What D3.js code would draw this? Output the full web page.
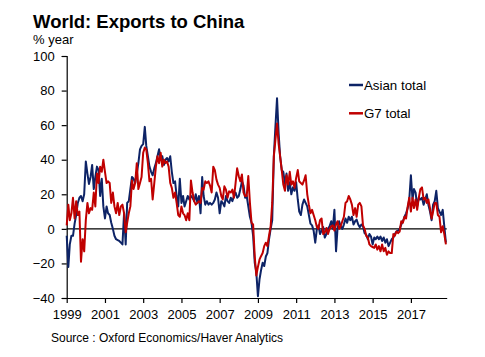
<!DOCTYPE html>
<html>
<head>
<meta charset="utf-8">
<script src="https://cdn.jsdelivr.net/npm/d3@7"></script>
<style>
  html, body { margin: 0; padding: 0; background: #fff; }
  svg { display: block; font-family: "Liberation Sans", Arial, sans-serif; }
</style>
</head>
<body>
<svg id="chart" width="485" height="357"></svg>
<script>
// ---- Data (monthly, % year), Jan 1999 .. Nov 2018 ----
const startYear = 1999;
const asianTotal = [
  -4, -22, -9, -4, -4, 3, 8, 15, 18, 19, 16, 20,          // 1999
  39, 32, 26, 30, 37, 23, 30, 36, 34, 19, 29, 13,          // 2000
  6, 13, 9, 8, 3.5, 0, -4, -6, -6.5, -7, -8, -9,           // 2001
  9, -9, 15, 16, 23, 30, 29, 26.5, 32, 38, 46, 48,         // 2002
  49, 59, 48, 42, 36, 33, 31, 35, 38, 42, 46, 40,          // 2003
  42, 37, 40, 41, 39, 42, 33, 26.5, 27.5, 19, 13, 29,      // 2004
  15, 19, 13, 16, 19, 17, 19, 18, 16, 20, 15, 19,          // 2005
  9, 30, 19, 14, 16, 14, 15, 14, 15, 17, 21, 18,           // 2006
  9, 16, 15, 13, 19, 16, 15, 18, 16, 19, 21, 18,           // 2007
  19, 23, 27.5, 25, 18, 19, 13, 7, 3.5, -4, -19.6, -25,    // 2008
  -39, -29, -24, -19.6, -21.5, -16, -14, -6, 0, 5, 42, 59, // 2009
  75.6, 55, 42, 34, 33, 26, 32, 22, 27, 20, 24, 22,        // 2010
  27, 17, 10, 8, 14, 17, 15, 13, 8, 3, 2, -1,              // 2011
  -8, 0, 2, -3, -1, 1, -5, -3, 0, 1.5, 4.4, 0,             // 2012
  11, -13, 0, 4.4, 1.5, 0, 2.5, 6, 3.5, 7, 5, 7,           // 2013
  2.5, 4.4, 5.4, 2.5, 1, 2.5, 1.5, -2.5, -3.5, -6, -3, -4.4, // 2014
  -9, -5, -6, -4.5, -6, -4.5, -7, -5, -8, -6, -10, -8,     // 2015
  -6, -5, -3, -1.5, -1, 0, 2.5, 4.4, 7, 9, 12, 17,         // 2016
  31, 17, 23, 21, 13, 18, 17, 18, 14, 17, 20, 14,          // 2017
  10, 5, 14, 16, 22, 12, 10, 8, 11, 1.5, -8                // 2018
];
const g7Total = [
  2, 14, 5, 9, 18, 6, 16, 8, 10, -19, -6, -13,             // 1999
  5, 15, 9, 12, 11, 21, 13, 32, 26.5, 36, 33, 40,          // 2000
  33, 26.5, 27.5, 26.5, 15, 21, 13, 9, 15, 8, 13, 14,      // 2001
  9, -2, 3.5, 9, 13, 28, 23, 26.5, 38, 23, 26.5, 30,       // 2002
  44, 47, 46, 38, 27.5, 29, 17, 26.5, 36, 42, 38, 44,      // 2003
  36, 40, 38, 39, 36, 26.5, 23.7, 18, 21, 15, 8, 7,        // 2004
  13, 9, 8, 5, 9, 5, 28, 21, 16, 14, 15, 16,               // 2005
  15, 23.7, 22.7, 27.5, 26.5, 27.5, 25, 21, 36, 34, 28.5, 25.6, // 2006
  23.7, 19, 17, 24.6, 22.7, 18, 21.7, 21, 22.7, 18, 26.5, 35,   // 2007
  30.4, 27.5, 31.5, 21, 19, 19, 30.6, 15, 3.5, 2.5, -16, -27,   // 2008
  -22, -17.7, -15.8, -14, -10, -8, -10, -4, 1.5, 15, 42, 51.5,  // 2009
  61, 49, 42, 34, 25.6, 22, 31, 25.6, 33, 25.6, 27.5, 23.7,     // 2010
  29.5, 34, 27.5, 26.5, 25.6, 28, 31, 20, 14, 9, 11, 8,    // 2011
  5, 1, 0, 5, 6, -3, -2, 0.5, -3, 0, 1.5, 2,               // 2012
  -1, 2.5, 4.4, 0, 1.5, 4.4, 7, 15, 16, 19, 17, 14,        // 2013
  8, 12, 7, 14, 15, 13, 2, 0, -4, -5, -9, -10,             // 2014
  -10.5, -11, -9, -12, -10, -13, -9, -13, -11, -15, -13, -14, // 2015
  -14, -3, -4, -1.5, -2.5, -1.5, 4.4, 3.5, 7, 6, 13, 18,   // 2016
  10, 18, 12, 17, 11, 18, 23, 24, 17, 18, 15, 17,          // 2017
  12, 6, 10, 15, 15, 8, 7, -2, 1.5, -3, -9                 // 2018
];
const yTicks = [-40, -20, 0, 20, 40, 60, 80, 100];
const xTickYears = [1999, 2001, 2003, 2005, 2007, 2009, 2011, 2013, 2015, 2017];
const seriesNames = ["Asian total", "G7 total"];
const seriesColors = ["#0d2366", "#c00000"];

// ---- Layout ----
const svg = d3.select("#chart");
const plot = { left: 66.7, right: 446.7, top: 56, bottom: 298 };

const dateOf = i => new Date(startYear, i, 1);
const x = d3.scaleTime()
  .domain([new Date(1999, 0, 1), new Date(2018, 10, 16)])
  .range([plot.left, plot.right]);
const y = d3.scaleLinear().domain([-40, 100]).range([plot.bottom, plot.top]);

// Title & subtitle
svg.append("text").attr("x", 33).attr("y", 28)
  .attr("font-size", 18.5).attr("font-weight", "bold").attr("fill", "#000")
  .text("World: Exports to China");
svg.append("text").attr("x", 33).attr("y", 43.5)
  .attr("font-size", 13).attr("fill", "#000").text("% year");

// Y axis
const yAxis = d3.axisLeft(y).tickValues(yTicks).tickSize(5).tickPadding(7).tickFormat(d3.format("d"));
const gy = svg.append("g").attr("transform", `translate(${plot.left},0)`).call(yAxis);
gy.select(".domain").attr("stroke", "#000").attr("stroke-width", 1.2);
gy.selectAll(".tick line").attr("stroke", "#000").attr("stroke-width", 1.2);
gy.selectAll("text").attr("font-size", 13).attr("fill", "#000")
  .attr("font-family", "'Liberation Sans', Arial, sans-serif");

// X axis
const xAxis = d3.axisBottom(x)
  .tickValues(xTickYears.map(yr => new Date(yr, 0, 1)))
  .tickSize(5).tickPadding(7).tickSizeOuter(0)
  .tickFormat(d3.timeFormat("%Y"));
const gx = svg.append("g").attr("transform", `translate(0,${plot.bottom})`).call(xAxis);
gx.select(".domain").attr("stroke", "#000").attr("stroke-width", 1.2);
gx.selectAll(".tick line").attr("stroke", "#000").attr("stroke-width", 1.2);
gx.selectAll("text").attr("font-size", 13).attr("fill", "#000")
  .attr("font-family", "'Liberation Sans', Arial, sans-serif");

// Zero line
svg.append("line")
  .attr("x1", plot.left).attr("x2", plot.right)
  .attr("y1", y(0)).attr("y2", y(0))
  .attr("stroke", "#000").attr("stroke-width", 1.2);

// Series lines
const line = d3.line().x((d, i) => x(dateOf(i))).y(d => y(d));
[asianTotal, g7Total].forEach((vals, k) => {
  svg.append("path").datum(vals)
    .attr("d", line)
    .attr("fill", "none")
    .attr("stroke", seriesColors[k])
    .attr("stroke-width", 2)
    .attr("stroke-linejoin", "round");
});

// Legend
const legend = svg.append("g");
seriesNames.forEach((name, k) => {
  const ly = 85 + k * 28.3;
  legend.append("line").attr("x1", 349).attr("x2", 363).attr("y1", ly).attr("y2", ly)
    .attr("stroke", seriesColors[k]).attr("stroke-width", 2.5);
  legend.append("text").attr("x", 364).attr("y", ly + 4.7)
    .attr("font-size", 13.3).attr("fill", "#000").text(name);
});

// Source
svg.append("text").attr("x", 51).attr("y", 342.3)
  .attr("font-size", 12).attr("fill", "#000")
  .text("Source : Oxford Economics/Haver Analytics");
</script>
</body>
</html>
